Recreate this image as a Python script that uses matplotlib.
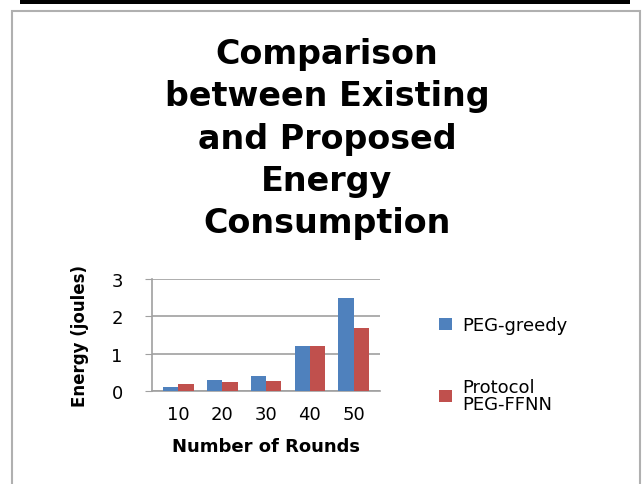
import matplotlib
matplotlib.use('Agg')

import numpy as np
import matplotlib.pyplot as plt
from matplotlib.patches import Rectangle

rounds = ['10', '20', '30', '40', '50']
peg_greedy = [0.1, 0.3, 0.4, 1.2, 2.5]
peg_ffnn = [0.2, 0.25, 0.27, 1.2, 1.7]

blue = '#4F81BD'
red = '#C0504D'

W, H = 644, 485
fig = plt.figure(figsize=(W / 100, H / 100), dpi=100)
fig.patch.set_facecolor('white')

# frame and top black bar
fig.add_artist(Rectangle((12 / W, -0.01), 628 / W, 1 - 12 / H + 0.01, transform=fig.transFigure,
                         fill=False, edgecolor='#b0b0b0', lw=1.5))
fig.add_artist(Rectangle((20 / W, 1 - 5 / H), 610 / W, 5 / H, transform=fig.transFigure,
                         facecolor='black', edgecolor='none'))

title = 'Comparison\nbetween Existing\nand Proposed\nEnergy\nConsumption'
fig.text(327 / W, 1 - 38 / H, title, ha='center', va='top', fontsize=24,
         fontweight='bold', family='DejaVu Sans', linespacing=1.36)

ax = fig.add_axes([152 / W, 1 - 392 / H, 228 / W, 112 / H])
x = np.arange(len(rounds))
w = 0.35
ax.bar(x - w / 2, peg_greedy, w, color=blue, label='PEG-greedy', zorder=3)
ax.bar(x + w / 2, peg_ffnn, w, color=red, label='Protocol\nPEG-FFNN', zorder=3)

ax.set_ylim(0, 3)
ax.set_xlim(-0.6, 4.6)
ax.set_yticks([0, 1, 2, 3])
ax.set_xticks(x)
ax.set_xticklabels(rounds)
ax.yaxis.grid(True, color='#a0a0a0', lw=1.2, zorder=0)
for s in ['top', 'right']:
    ax.spines[s].set_visible(False)
ax.spines['left'].set_color('#a0a0a0')
ax.spines['bottom'].set_color('#a0a0a0')
ax.spines['left'].set_linewidth(1.2)
ax.spines['bottom'].set_linewidth(1.2)
ax.tick_params(axis='x', length=0, labelsize=13, pad=10)
ax.tick_params(axis='y', length=5, color='#a0a0a0', labelsize=13, pad=16)
for lab in ax.get_xticklabels() + ax.get_yticklabels():
    lab.set_family('DejaVu Sans')
ax.set_ylabel('Energy (joules)', fontsize=12, fontweight='bold', family='DejaVu Sans', labelpad=16)
ax.set_xlabel('Number of Rounds', fontsize=13, fontweight='bold', family='DejaVu Sans', labelpad=10)

h, l = ax.get_legend_handles_labels()
leg = fig.legend(h, l, loc='upper left', bbox_to_anchor=(423 / W, 1 - 301 / H), frameon=False,
                 prop={'family': 'DejaVu Sans', 'size': 13}, handlelength=0.7, handleheight=0.7,
                 labelspacing=2.4, handletextpad=0.6)
for t in leg.get_texts():
    t.set_linespacing(0.95)

plt.savefig('out.png', dpi=100)
